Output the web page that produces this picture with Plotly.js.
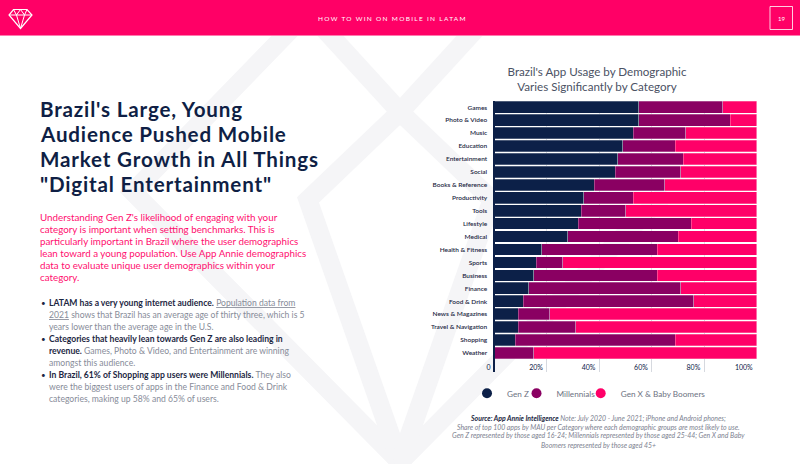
<!DOCTYPE html>
<html>
<head>
<meta charset="utf-8">
<script src="https://cdn.plot.ly/plotly-3.0.1.min.js"></script>
<style>html,body{margin:0;padding:0;background:#fff;}#chart{width:800px;height:464px;}</style>
</head>
<body>
<div id="chart"></div>
<script>
// ---- data ----
const categories = ['Games','Photo & Video','Music','Education','Entertainment','Social','Books & Reference','Productivity','Tools','Lifestyle','Medical','Health & Fitness','Sports','Business','Finance','Food & Drink','News & Magazines','Travel & Navigation','Shopping','Weather'];
const genZ        = [55,55,53,49,47,46,38,34,33,32,28,18,16,15,13,11, 9, 9, 8, 0];
const millennials = [32,35,20,20,25,25,27,19,17,43,42,44,10,47,58,65,12,22,61,15];
const genXBoomers = [13,10,27,31,28,29,35,47,50,25,30,38,74,38,29,24,79,69,31,85];
const seriesNames = ['Gen Z','Millennials','Gen X & Baby Boomers'];
const xTickVals = [0,20,40,60,80,100];
const xTickText = ['0','20%','40%','60%','80%','100%'];

const W = 800, H = 464;
const FONT = 'Lato, "Open Sans", sans-serif';
const NAVY = '#0c2048', PURPLE = '#8a0062', PINK = '#ff0068';
const colors = [NAVY, PURPLE, PINK];
const seriesVals = [genZ, millennials, genXBoomers];
const legendIds = ['legend', 'legend2', 'legend3'];
const legendX = [467, 516.5, 580.7];

const px = x => x / W;
const py = y => 1 - y / H;

const traces = seriesVals.map((vals, i) => ({
  type: 'bar', orientation: 'h', name: seriesNames[i],
  x: vals, y: categories, showlegend: false,
  marker: {color: colors[i], line: {color: 'rgba(255,255,255,0.45)', width: 0.6}},
  hoverinfo: 'x+y+name'
}));
seriesNames.forEach((n, i) => traces.push({
  type: 'scatter', mode: 'markers', name: n, x: [null], y: [null], legend: legendIds[i],
  marker: {color: colors[i], size: 10, symbol: 'circle'}, showlegend: true
}));

const annotations = [];
function addLines(arr, x, y0, dy, font, xanchor) {
  arr.forEach((t, i) => annotations.push({
    xref: 'paper', yref: 'paper', x: px(x), y: py(y0 + i * dy),
    xanchor: xanchor || 'left', yanchor: 'middle', text: t, showarrow: false, borderpad: 0,
    font: font, align: xanchor === 'center' ? 'center' : 'left'
  }));
}

// header
addLines(['<span style="letter-spacing:1.3px">HOW TO WIN ON MOBILE IN LATAM</span>'], 392, 18, 0, {family: FONT, size: 6.5, color: '#ffffff'}, 'center');
addLines(['19'], 781.5, 18, 0, {family: FONT, size: 6, color: '#ffffff'}, 'center');

// heading
addLines(["Brazil's Large, Young", 'Audience Pushed Mobile', 'Market Growth in All Things', '"Digital Entertainment"']
  .map(s => '<span style="letter-spacing:0.82px">' + s + '</span>'),
  39, 109, 25, {family: FONT, size: 20.6, color: '#0f1f45', weight: 700});

// pink paragraph
addLines(["Understanding Gen Z's likelihood of engaging with your",
  'category is important when setting benchmarks. This is',
  'particularly important in Brazil where the user demographics',
  'lean toward a young population. Use App Annie demographics',
  'data to evaluate unique user demographics within your',
  'category.'], 39, 217, 12, {family: FONT, size: 9.8, color: '#ff0f6f'});

// bullets
const B = s => '<span style="color:#1d2743"><b>' + s + '</b></span>';
addLines([B('LATAM has a very young internet audience.') + ' <u>Population data from</u>',
  '<u>2021</u> shows that Brazil has an average age of thirty three, which is 5',
  'years lower than the average age in the U.S.',
  B('Categories that heavily lean towards Gen Z are also leading in'),
  B('revenue.') + ' Games, Photo &amp; Video, and Entertainment are winning',
  'amongst this audience.',
  B('In Brazil, 61% of Shopping app users were Millennials.') + ' They also',
  'were the biggest users of apps in the Finance and Food &amp; Drink',
  'categories, making up 58% and 65% of users.'], 47.5, 302.7, 12, {family: FONT, size: 8.6, color: '#878c99'});
[302.7, 338.7, 374.7].forEach(y => addLines(['•'], 43.5, y, 0, {family: FONT, size: 8, color: '#1d2743'}, 'center'));

// source note
addLines(['<span style="color:#1d2743"><b>Source: App Annie Intelligence</b></span> Note: July 2020 - June 2021; iPhone and Android phones;',
  'Share of top 100 apps by MAU per Category where each demographic groups are most likely to use.',
  'Gen Z represented by those aged 16-24; Millennials represented by those aged 25-44; Gen X and Baby',
  'Boomers represented by those aged 45+'].map(s => '<i>' + s + '</i>'),
  598, 418.3, 8.8, {family: FONT, size: 6.9, color: '#7d8290'}, 'center');

// shapes
const shapes = [];
const WM = '#f5f5f7';
function wpath(pts, w) {
  shapes.push({type: 'path', xref: 'paper', yref: 'paper', layer: 'below',
    path: pts.map((p, i) => (i ? 'L' : 'M') + px(p[0]) + ',' + py(p[1])).join(' '),
    line: {color: WM, width: w || 19}});
}
wpath([[300, 20], [133, 192], [400, 462], [667, 192]]);
wpath([[316, 20], [400, 112], [484, 20]]);
wpath([[400, 112], [308, 200], [400, 462]]);
wpath([[400, 112], [492, 200], [400, 462]]);
// header bar
shapes.push({type: 'rect', xref: 'paper', yref: 'paper', x0: 0, x1: 1, y0: py(35), y1: 1, fillcolor: '#ff0066', line: {width: 0}, layer: 'below'});
shapes.push({type: 'line', xref: 'paper', yref: 'paper', x0: 0, x1: 1, y0: py(35.5), y1: py(35.5), line: {color: '#ff7aae', width: 1}, layer: 'below'});
// page box
shapes.push({type: 'rect', xref: 'paper', yref: 'paper', x0: px(770), x1: px(792.5), y0: py(29.5), y1: py(6.5), line: {color: 'rgba(255,255,255,0.8)', width: 1}, layer: 'above'});
// logo
const P = (x, y) => px(x) + ',' + py(y);
shapes.push({type: 'path', xref: 'paper', yref: 'paper', layer: 'above',
  path: 'M' + P(13.5, 9.5) + ' L' + P(27, 9.5) + ' L' + P(32, 15) + ' L' + P(20.5, 28.5) + ' L' + P(9, 15) + ' Z',
  line: {color: '#ffffff', width: 1.2}});
shapes.push({type: 'path', xref: 'paper', yref: 'paper', layer: 'above',
  path: 'M' + P(9, 15) + ' L' + P(32, 15) + ' M' + P(13.5, 9.5) + ' L' + P(16.5, 15) + ' L' + P(20.5, 28.5) + ' L' + P(24.5, 15) + ' L' + P(27, 9.5) +
        ' M' + P(16.5, 15) + ' L' + P(20.5, 9.5) + ' L' + P(24.5, 15),
  line: {color: '#ffffff', width: 1}});

const layout = {
  width: W, height: H,
  margin: {l: 0, r: 0, t: 0, b: 0, pad: 0},
  paper_bgcolor: '#ffffff', plot_bgcolor: '#ffffff',
  font: {family: FONT, color: NAVY},
  barmode: 'stack', bargap: 0.1,
  title: {text: "Brazil's App Usage by Demographic<br>Varies Significantly by Category",
    xref: 'paper', yref: 'paper', x: px(597), y: py(75.7), xanchor: 'center', yanchor: 'middle',
    font: {family: FONT, size: 11.6, color: '#4b5264'}},
  xaxis: {
    domain: [px(494.5), px(756.7)], range: [0, 100], autorange: false,
    tickvals: xTickVals, ticktext: xTickText, showgrid: true, gridcolor: '#d6d9df', gridwidth: 1,
    zeroline: false, showline: false, ticks: '',
    ticklabelposition: 'outside left', ticklabelshift: -4, ticklabelstandoff: -10,
    tickfont: {family: FONT, size: 7, color: NAVY}, fixedrange: true
  },
  yaxis: {
    domain: [py(371.7), py(100.8)], type: 'category', categoryorder: 'array', categoryarray: categories,
    range: [20.45, -0.5], autorange: false, showgrid: false, zeroline: false,
    showline: true, linecolor: NAVY, linewidth: 2, ticks: '', ticklabelstandoff: 4,
    tickfont: {family: FONT, size: 6.5, color: '#1d2743', weight: 600}, fixedrange: true
  },
  shapes: shapes,
  annotations: annotations,
  showlegend: true
};
legendIds.forEach((id, i) => {
  layout[id] = {orientation: 'h', x: px(legendX[i]), xanchor: 'left', y: py(393.3), yanchor: 'middle',
    font: {family: FONT, size: 8.2, color: '#6d7282'}, bgcolor: 'rgba(0,0,0,0)', borderwidth: 0, itemclick: false};
});

Plotly.newPlot('chart', traces, layout, {displayModeBar: false, staticPlot: true});
</script>
</body>
</html>
